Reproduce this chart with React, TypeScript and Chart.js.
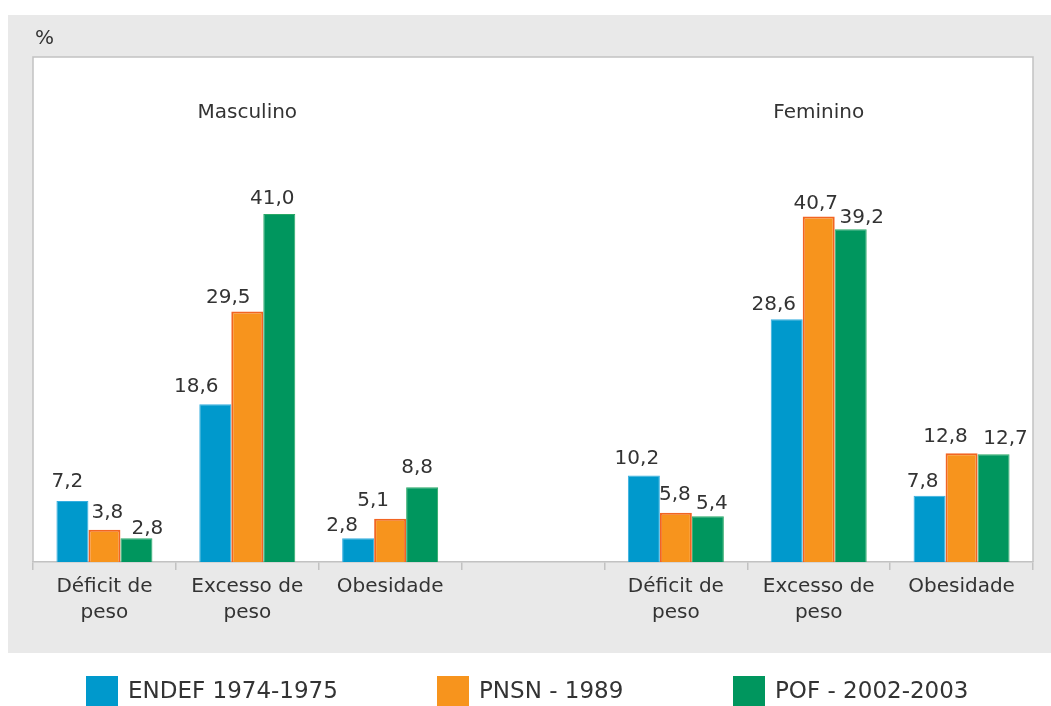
import React, { useEffect, useRef } from "react";
import { Chart, registerables } from "chart.js";

Chart.register(...registerables);

// Categories (two sex groups separated by an empty slot)
const categories: (string | string[])[] = [
  ["Déficit de", "peso"],
  ["Excesso de", "peso"],
  ["Obesidade"],
  "",
  ["Déficit de", "peso"],
  ["Excesso de", "peso"],
  ["Obesidade"],
];

const groupTitles = ["Masculino", "Feminino"];
const groupTitleIndex = [1, 5];

const seriesNames = ["ENDEF 1974-1975", "PNSN - 1989", "POF - 2002-2003"];

const endef = [7.2, 18.6, 2.8, null, 10.2, 28.6, 7.8];
const pnsn = [3.8, 29.5, 5.1, null, 5.8, 40.7, 12.8];
const pof = [2.8, 41.0, 8.8, null, 5.4, 39.2, 12.7];

const yMax = 59.5;
const unitLabel = "%";

// Styling
const fills = ["#0099cc", "#f7941d", "#00965e"];
const borders = ["#36aee0", "#f26522", "#2aa866"];
const FONT = "'DejaVu Sans', sans-serif";
const TEXT = "#333333";
const PANEL = "#e9e9e9";
const RULE = "#c2c2c2";

// Hand placement of the value labels (px shifts from bar centre / bar top)
const labelShiftX = [
  [-5, -19, -16, 0, -7, -13, -7],
  [3, -19, -17, 0, -1, -3, -16],
  [11, -7, -5, 0, 4, 11, 12],
];
const labelGap = [
  [14, 12, 7, 0, 11, 9, 9],
  [12, 9, 13, 0, 13, 8, 11],
  [4, 10, 14, 0, 7, 6, 10],
];

// Legend slot starts and swatch size
const legendSlots = [86, 437, 733];
const legendTop = 676;
const swatchW = 32;
const swatchH = 30;

// Height reserved for the category axis
const X_AXIS_H = 70;

const fmt = (v: number) => v.toFixed(1).replace(".", ",");

const decorPlugin = {
  id: "decor",
  beforeDraw(chart: any) {
    const { ctx, chartArea } = chart;
    const { left, top, right, bottom } = chartArea;
    ctx.save();
    ctx.fillStyle = "#ffffff";
    ctx.fillRect(0, 0, chart.width, chart.height);
    ctx.fillStyle = PANEL;
    ctx.fillRect(8, 15, chart.width - 8, 638);
    ctx.fillStyle = "#ffffff";
    ctx.fillRect(left, top, right - left, bottom - top);
    ctx.strokeStyle = RULE;
    ctx.lineWidth = 1.5;
    ctx.beginPath();
    ctx.moveTo(left, bottom);
    ctx.lineTo(left, top);
    ctx.lineTo(right, top);
    ctx.lineTo(right, bottom);
    ctx.stroke();
    ctx.restore();
  },
  afterDatasetsDraw(chart: any) {
    const { ctx } = chart;
    ctx.save();
    ctx.font = `20px ${FONT}`;
    ctx.fillStyle = TEXT;
    ctx.textAlign = "center";
    ctx.textBaseline = "alphabetic";
    chart.data.datasets.forEach((ds: any, di: number) => {
      const meta = chart.getDatasetMeta(di);
      ds.data.forEach((v: number | null, i: number) => {
        if (v === null || v === undefined) return;
        const bar = meta.data[i];
        ctx.fillText(fmt(v), bar.x + labelShiftX[di][i], bar.y - labelGap[di][i]);
      });
    });

    // group titles
    const xs = chart.scales.x;
    ctx.textBaseline = "middle";
    groupTitles.forEach((t, k) => {
      ctx.fillText(t, xs.getPixelForValue(groupTitleIndex[k]), 113);
    });

    // unit
    ctx.textAlign = "left";
    ctx.fillText(unitLabel, chart.chartArea.left + 2, 39);
    ctx.restore();
  },
  afterDraw(chart: any) {
    const { ctx } = chart;
    ctx.save();
    ctx.font = `23px ${FONT}`;
    ctx.textBaseline = "middle";
    ctx.textAlign = "left";
    chart.data.datasets.forEach((ds: any, di: number) => {
      const x = legendSlots[di];
      ctx.fillStyle = fills[di];
      ctx.fillRect(x, legendTop, swatchW, swatchH);
      ctx.fillStyle = TEXT;
      ctx.fillText(ds.label, x + swatchW + 10, legendTop + swatchH / 2 + 1);
    });
    ctx.restore();
  },
};

export default function App() {
  const ref = useRef<HTMLCanvasElement | null>(null);

  useEffect(() => {
    document.body.style.margin = "0";
    const canvas = ref.current;
    if (!canvas) return;
    const series = [endef, pnsn, pof];
    const chart = new Chart(canvas, {
      type: "bar",
      data: {
        labels: categories as any,
        datasets: series.map((d, i) => ({
          label: seriesNames[i],
          data: d as any,
          backgroundColor: fills[i],
          borderColor: borders[i],
          borderWidth: i === 1 ? 2 : 1,
          borderSkipped: "bottom",
          categoryPercentage: 0.672,
          barPercentage: 1,
        })),
      },
      options: {
        responsive: false,
        animation: false,
        devicePixelRatio: 1,
        layout: { padding: { left: 33, right: 18, top: 57, bottom: 144 - X_AXIS_H } },
        plugins: {
          legend: { display: false },
          tooltip: { enabled: false },
          title: { display: false },
        },
        scales: {
          x: {
            offset: true,
            grid: {
              display: true,
              offset: true,
              drawOnChartArea: false,
              drawTicks: true,
              tickLength: 8,
              color: RULE,
              lineWidth: 1.5,
            },
            border: { display: true, color: RULE, width: 1.5 },
            ticks: {
              color: TEXT,
              padding: 4,
              font: { family: FONT, size: 20, lineHeight: "26px" } as any,
              maxRotation: 0,
              minRotation: 0,
              autoSkip: false,
            },
            afterFit: (scale: any) => {
              scale.height = X_AXIS_H;
            },
          },
          y: {
            display: false,
            min: 0,
            max: yMax,
          },
        },
      },
      plugins: [decorPlugin],
    });
    return () => chart.destroy();
  }, []);

  return (
    <canvas
      ref={ref}
      width={1051}
      height={706}
      style={{ display: "block", width: 1051, height: 706 }}
    />
  );
}
